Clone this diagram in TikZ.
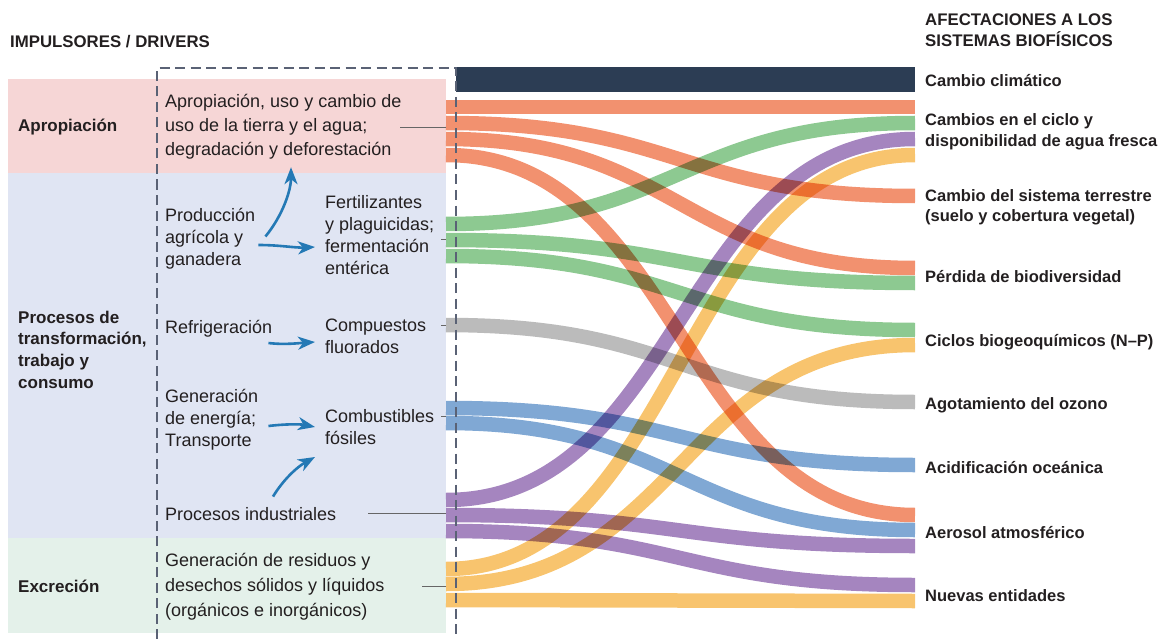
\documentclass[tikz,border=0pt]{standalone}
\usepackage{fontspec}
\setmainfont{Liberation Sans}
\usetikzlibrary{arrows.meta}
\definecolor{navy}{HTML}{2C3D54}
\definecolor{salmon}{HTML}{F2916F}
\definecolor{leaf}{HTML}{8DC991}
\definecolor{ash}{HTML}{BBBBBB}
\definecolor{sky}{HTML}{80A8D4}
\definecolor{lilac}{HTML}{A585BF}
\definecolor{amber}{HTML}{F8C46E}
\definecolor{pinkbg}{HTML}{F6D6D6}
\definecolor{bluebg}{HTML}{E0E5F3}
\definecolor{greenbg}{HTML}{E4F1EA}
\definecolor{arrowblue}{HTML}{2479B5}
\definecolor{dashgray}{HTML}{5A6275}
\definecolor{ink}{HTML}{231F20}

\begin{document}
\begin{tikzpicture}[x=1pt, y=-1pt,
    txt/.style={anchor=west, inner sep=2pt, align=left, text=ink, font=\fontsize{18}{22}\selectfont},
    cat/.style={txt, font=\bfseries\fontsize{17}{21.7}\selectfont},
    eff/.style={txt, font=\bfseries\fontsize{16.5}{20.5}\selectfont},
    flow/.style={draw=#1, line width=14.5pt, blend mode=multiply},
    tick/.style={draw=black!60, line width=0.9pt},
    push/.style={draw=arrowblue, line width=2.6pt, -{Stealth[length=17pt, width=13pt, inset=5pt]}}]
        \useasboundingbox (0,0) rectangle (1158,639);
        % Driver blocks
        \fill[pinkbg] (8,79) rectangle (446,173);
        \fill[bluebg] (8,173) rectangle (446,538);
        \fill[greenbg] (8,538) rectangle (446,633);
        % Headers
        \node[cat, font=\bfseries\fontsize{16.8}{21.5}\selectfont] (IMP) at (8,41.5) {IMPULSORES / DRIVERS};
        \node[cat, font=\bfseries\fontsize{16.8}{21.5}\selectfont] (AFE) at (923,30) {AFECTACIONES A LOS\\SISTEMAS BIOFÍSICOS};
        % Categories
        \node[cat] (APC) at (16,127) {Apropiación};
        \node[cat] (PRC) at (16,349.5) {Procesos de\\transformación,\\trabajo y\\consumo};
        \node[cat] (EXC) at (16,586.5) {Excreción};
        % Drivers
        \node[txt, font=\fontsize{18}{24}\selectfont] (APRO) at (163,127)
          {Apropiación, uso y cambio de\\uso de la tierra y el agua;\\degradación y deforestación};
        \node[txt] (PROD) at (163,238.5) {Producción\\agrícola y\\ganadera};
        \node[txt] (FERT) at (323,235.5) {Fertilizantes\\y plaguicidas;\\fermentación\\entérica};
        \node[txt] (REFR) at (163,329) {Refrigeración};
        \node[txt] (COMP) at (323,336.5) {Compuestos\\fluorados};
        \node[txt] (GEN) at (163,419.5) {Generación\\de energía;\\Transporte};
        \node[txt] (COMB) at (323,427.5) {Combustibles\\fósiles};
        \node[txt] (IND) at (163,514) {Procesos industriales};
        \node[txt, font=\fontsize{18}{25}\selectfont] (RES) at (163,587)
          {Generación de residuos y\\desechos sólidos y líquidos\\(orgánicos e inorgánicos)};
        % Effects
        \node[eff] (CLIM) at (923,80.5) {Cambio climático};
        \node[eff] (AGUA) at (923,132) {Cambios en el ciclo y\\disponibilidad de agua fresca};
        \node[eff] (TERR) at (923,207.5) {Cambio del sistema terrestre\\(suelo y cobertura vegetal)};
        \node[eff] (BIOD) at (923,277) {Pérdida de biodiversidad};
        \node[eff] (BGQ) at (923,342) {Ciclos biogeoquímicos (N--P)};
        \node[eff] (OZON) at (923,405) {Agotamiento del ozono};
        \node[eff] (ACID) at (923,468) {Acidificación oceánica};
        \node[eff] (AERO) at (923,533) {Aerosol atmosférico};
        \node[eff] (NUEV) at (923,596) {Nuevas entidades};
        % Flows
        \fill[navy] (456,67) rectangle (915,92);
        \foreach \ya/\yb/\c in {107/107/salmon, 123/196/salmon, 139/268/salmon, 155/515/salmon,
            224/123/leaf, 240/283/leaf, 256/330/leaf, 325/402/ash, 408/465/sky, 423/530/sky,
            500/139/lilac, 515/546/lilac, 531/585/lilac, 569/155/amber, 584/345/amber, 600/601/amber}
          \draw[flow=\c] (446,\ya) .. controls (680,\ya) and (680,\yb) .. (915,\yb);
        % Ports
        \coordinate (pAPRO) at (446,127);
        \coordinate (pFERT) at (446,239);
        \coordinate (pCOMP) at (446,325);
        \coordinate (pCOMB) at (446,416);
        \coordinate (pIND) at (446,513);
        \coordinate (pRES) at (446,586);
        \draw[tick] (pAPRO) -- +(-46,0);
        \draw[tick] (pFERT) -- +(-5,0);
        \draw[tick] (pCOMP) -- +(-5,0);
        \draw[tick] (pCOMB) -- +(-5,0);
        \draw[tick] (pIND) -- +(-78,0);
        \draw[tick] (pRES) -- +(-24,0);
        % Dashed frame
        \draw[dashgray, line width=1.2pt, dash pattern=on 10pt off 5.5pt]
          (157,639) -- (157,68) -- (456,68) -- (456,639);
        % Links between drivers
        \draw[push] ([shift={(8,-2)}]PROD.east) .. controls (283,215) and (291,190) .. ([shift={(128,5.5)}]APRO.south west);
        \draw[push] ([shift={(1,6.5)}]PROD.east) .. controls (280,245) and (295,248) .. ([shift={(-8,11.5)}]FERT.west);
        \draw[push] ([shift={(-6,14)}]REFR.east) .. controls (285,345) and (300,343) .. ([shift={(-8,5.5)}]COMP.west);
        \draw[push] ([shift={(8,6.5)}]GEN.east) .. controls (285,424) and (300,424) .. ([shift={(-8,-0.5)}]COMB.west);
        \draw[push] ([shift={(110,-8.6)}]IND.north west) .. controls (283,480) and (297,467) .. ([shift={(-8,29.5)}]COMB.west);
      \end{tikzpicture}
\end{document}
